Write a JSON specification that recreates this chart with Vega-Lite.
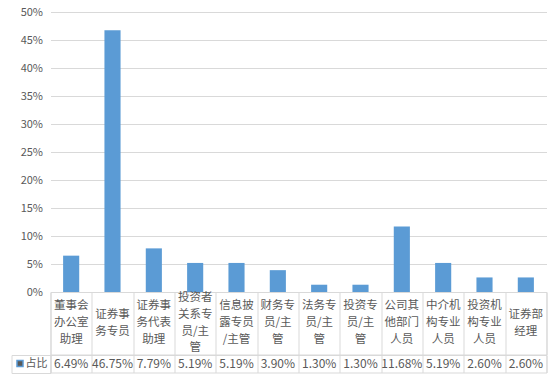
{
  "$schema": "https://vega.github.io/schema/vega-lite/v6.json",
  "background": "white",
  "padding": {"left": 10.5, "top": 6, "right": 3, "bottom": 6},
  "config": {"font": "Noto Sans CJK SC", "view": {"stroke": null}},
  "datasets": {
    "t": [
      {"name": "董事会办公室助理", "pct": 0.0649, "series": "占比"},
      {"name": "证券事务专员", "pct": 0.4675, "series": "占比"},
      {"name": "证券事务代表助理", "pct": 0.0779, "series": "占比"},
      {"name": "投资者关系专员/主管", "pct": 0.0519, "series": "占比"},
      {"name": "信息披露专员/主管", "pct": 0.0519, "series": "占比"},
      {"name": "财务专员/主管", "pct": 0.039, "series": "占比"},
      {"name": "法务专员/主管", "pct": 0.013, "series": "占比"},
      {"name": "投资专员/主管", "pct": 0.013, "series": "占比"},
      {"name": "公司其他部门人员", "pct": 0.1168, "series": "占比"},
      {"name": "中介机构专业人员", "pct": 0.0519, "series": "占比"},
      {"name": "投资机构专业人员", "pct": 0.026, "series": "占比"},
      {"name": "证券部经理", "pct": 0.026, "series": "占比"}
    ]
  },
  "spacing": 0,
  "bounds": "flush",
  "resolve": {"scale": {"color": "independent"}, "legend": {"color": "independent"}},
  "vconcat": [
    {
      "width": 496,
      "height": 280,
      "data": {"name": "t"},
      "mark": {"type": "bar", "color": "#5B9BD5"},
      "encoding": {
        "x": {"field": "name", "type": "nominal", "sort": null, "axis": null,
              "scale": {"paddingInner": 0.61, "paddingOuter": 0.305}},
        "y": {"field": "pct", "type": "quantitative",
              "scale": {"domain": [0, 0.5]},
              "axis": {"values": [0, 0.05, 0.1, 0.15, 0.2, 0.25, 0.3, 0.35, 0.4, 0.45, 0.5],
                       "format": ".0%", "title": null, "domain": false, "ticks": false, "tickSize": 0,
                       "labelPadding": 8, "gridColor": "#d9d9d9", "labelColor": "#595959", "labelFontSize": 11}}
      }
    },
    {
      "width": 496,
      "height": 62.5,
      "view": {"stroke": "#d9d9d9"},
      "data": {"name": "t"},
      "encoding": {
        "x": {"field": "name", "type": "nominal", "sort": null,
              "scale": {"padding": 0},
              "axis": {"title": null, "labels": false, "ticks": false, "domain": false,
                       "grid": true, "gridColor": "#d9d9d9", "tickBand": "extent"}}
      },
      "layer": [
        {"mark": {"type": "rule", "opacity": 0}, "encoding": {}},
        {"transform": [{"filter": "length(datum.name) > 9"}, {"calculate": "substring(datum.name,0,3)", "as": "ln"}],
         "mark": {"type": "text", "fontSize": 11.5, "color": "#595959", "dy": -25.2},
         "encoding": {"text": {"field": "ln"}}},
        {"transform": [{"filter": "length(datum.name) > 6 && length(datum.name) <= 9"}, {"calculate": "substring(datum.name,0,3)", "as": "ln"}],
         "mark": {"type": "text", "fontSize": 11.5, "color": "#595959", "dy": -16.8},
         "encoding": {"text": {"field": "ln"}}},
        {"transform": [{"filter": "length(datum.name) > 9 || length(datum.name) <= 6"}, {"calculate": "length(datum.name) > 9 ? substring(datum.name,3,6) : substring(datum.name,0,3)", "as": "ln"}],
         "mark": {"type": "text", "fontSize": 11.5, "color": "#595959", "dy": -8.4},
         "encoding": {"text": {"field": "ln"}}},
        {"transform": [{"filter": "length(datum.name) > 6 && length(datum.name) <= 9"}, {"calculate": "substring(datum.name,3,6)", "as": "ln"}],
         "mark": {"type": "text", "fontSize": 11.5, "color": "#595959", "dy": 0},
         "encoding": {"text": {"field": "ln"}}},
        {"transform": [{"filter": "length(datum.name) > 9 || length(datum.name) <= 6"}, {"calculate": "length(datum.name) > 9 ? substring(datum.name,6,9) : substring(datum.name,3)", "as": "ln"}],
         "mark": {"type": "text", "fontSize": 11.5, "color": "#595959", "dy": 8.4},
         "encoding": {"text": {"field": "ln"}}},
        {"transform": [{"filter": "length(datum.name) > 6 && length(datum.name) <= 9"}, {"calculate": "substring(datum.name,6)", "as": "ln"}],
         "mark": {"type": "text", "fontSize": 11.5, "color": "#595959", "dy": 16.8},
         "encoding": {"text": {"field": "ln"}}},
        {"transform": [{"filter": "length(datum.name) > 9"}, {"calculate": "substring(datum.name,9)", "as": "ln"}],
         "mark": {"type": "text", "fontSize": 11.5, "color": "#595959", "dy": 25.2},
         "encoding": {"text": {"field": "ln"}}}
      ]
    },
    {
      "width": 496,
      "height": 17.5,
      "view": {"stroke": "#d9d9d9"},
      "data": {"name": "t"},
      "mark": {"type": "text", "fontSize": 12},
      "encoding": {
        "x": {"field": "name", "type": "nominal", "sort": null,
              "scale": {"padding": 0},
              "axis": {"title": null, "labels": false, "ticks": false, "domain": false,
                       "grid": true, "gridColor": "#d9d9d9", "tickBand": "extent"}},
        "text": {"field": "pct", "type": "quantitative", "format": ".2%"},
        "color": {"field": "series", "type": "nominal", "scale": {"range": ["#595959"]},
                  "legend": {"orient": "left", "offset": 0, "title": null, "symbolType": "square", "symbolSize": 36,
                             "padding": 3, "labelOffset": 0, "labelFontSize": 11, "labelColor": "#595959",
                             "strokeColor": "#d9d9d9",
                             "encode": {"symbols": {"update": {"fill": {"value": "#5B9BD5"}, "stroke": {"value": "#5B9BD5"}}}}}}
      }
    }
  ]
}
